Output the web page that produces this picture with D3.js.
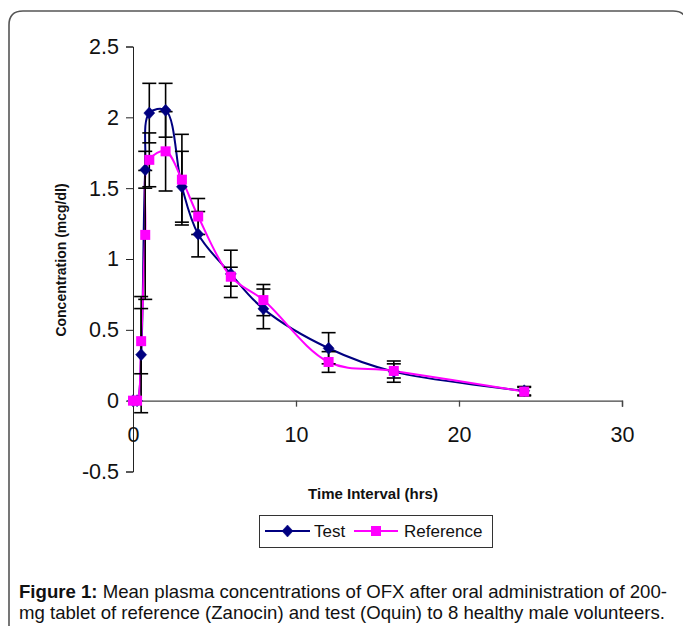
<!DOCTYPE html>
<html>
<head>
<meta charset="utf-8">
<script src="https://cdn.jsdelivr.net/npm/d3@7"></script>
<style>
html,body{margin:0;padding:0;background:#fff;}
svg{display:block;}
</style>
</head>
<body>
<svg id="chart" width="683" height="626"></svg>
<script>
// ---- data ----
const times = [0, 0.25, 0.5, 0.75, 1, 2, 3, 4, 6, 8, 12, 16, 24];
const testValues = [0, 0, 0.325, 1.63, 2.03, 2.05, 1.51, 1.175, 0.895, 0.648, 0.37, 0.205, 0.07];
const refValues  = [0, 0, 0.42, 1.17, 1.70, 1.76, 1.56, 1.30, 0.875, 0.71, 0.273, 0.21, 0.064];
const testSD = [0, 0, 0.41, 0.13, 0.21, 0.19, 0.25, 0.16, 0.167, 0.14, 0.11, 0.075, 0.03];
const refSD  = [0, 0, 0.23, 0.455, 0.19, 0.28, 0.32, 0.127, 0.067, 0.11, 0.073, 0.05, 0.03];
const xTicks = [0, 10, 20, 30];
const yTicks = [-0.5, 0, 0.5, 1, 1.5, 2, 2.5];
const seriesNames = ["Test", "Reference"];
const xTitle = "Time Interval (hrs)";
const yTitle = "Concentration (mcg/dl)";

const svg = d3.select("#chart");

// frame
svg.append("path")
  .attr("d", "M9,660 L9,25 Q9,11 23,11 L673,11 Q687,11 687,25 L687,660")
  .attr("fill", "none").attr("stroke", "#555").attr("stroke-width", 1.6);

const x = d3.scaleLinear().domain([0, 30]).range([133, 622]);
const y = d3.scaleLinear().domain([-0.5, 2.5]).range([471.5, 46.5]);

// y axis
const yAxis = d3.axisLeft(y).tickValues(yTicks).tickSize(7).tickPadding(7)
  .tickFormat(d => String(d));
const gy = svg.append("g").attr("transform", `translate(${x(0)},0)`).call(yAxis);
gy.select(".domain").attr("stroke", "#222");
gy.selectAll(".tick line").attr("stroke", "#222");
gy.selectAll(".tick text").attr("font-family", "Liberation Sans, Arial, sans-serif")
  .attr("font-size", 21.5).attr("fill", "#111");

// x axis at y=0
const xAxis = d3.axisBottom(x).tickValues(xTicks).tickSize(6).tickPadding(0)
  .tickFormat(d => String(d));
const gx = svg.append("g").attr("transform", `translate(0,${y(0)})`).call(xAxis);
gx.select(".domain").attr("stroke", "#444").attr("stroke-width", 1.3);
gx.selectAll(".tick line").attr("stroke", "#444").attr("stroke-width", 1.3);
gx.selectAll(".tick text").attr("font-family", "Liberation Sans, Arial, sans-serif")
  .attr("font-size", 21.5).attr("fill", "#111").attr("dy", null).attr("y", 41);

// axis titles
svg.append("text").attr("x", 373).attr("y", 499).attr("text-anchor", "middle")
  .attr("font-family", "Liberation Sans Narrow, Arial Narrow, Liberation Sans, sans-serif")
  .attr("font-weight", "bold").attr("font-size", 15).attr("fill", "#111").text(xTitle);
svg.append("text").attr("transform", "translate(66,260) rotate(-90)").attr("text-anchor", "middle")
  .attr("font-family", "Liberation Sans Narrow, Arial Narrow, Liberation Sans, sans-serif")
  .attr("font-weight", "bold").attr("font-size", 14).attr("fill", "#111").text(yTitle);

const colors = ["#000080", "#FF00FF"];
const series = [
  {name: seriesNames[0], vals: testValues, sd: testSD, color: colors[0], sym: "diamond"},
  {name: seriesNames[1], vals: refValues, sd: refSD, color: colors[1], sym: "square"}
];

const line = d3.line().x(d => x(d[0])).y(d => y(d[1])).curve(d3.curveCatmullRom.alpha(0.5));

series.forEach(s => {
  svg.append("path").datum(times.map((t, i) => [t, s.vals[i]]))
    .attr("d", line).attr("fill", "none").attr("stroke", s.color).attr("stroke-width", 2);
});

// error bars
const eb = svg.append("g").attr("stroke", "#000").attr("stroke-width", 1.6);
series.forEach(s => {
  times.forEach((t, i) => {
    if (s.sd[i] <= 0) return;
    const cx = x(t), y1 = y(s.vals[i] + s.sd[i]), y2 = y(s.vals[i] - s.sd[i]);
    eb.append("line").attr("x1", cx).attr("x2", cx).attr("y1", y1).attr("y2", y2);
    eb.append("line").attr("x1", cx - 7).attr("x2", cx + 7).attr("y1", y1).attr("y2", y1);
    eb.append("line").attr("x1", cx - 7).attr("x2", cx + 7).attr("y1", y2).attr("y2", y2);
  });
});

function marker(g, sym, cx, cy, color) {
  if (sym === "diamond") {
    g.append("path").attr("d", `M${cx},${cy-6} L${cx+5.5},${cy} L${cx},${cy+6} L${cx-5.5},${cy} Z`)
      .attr("fill", color).attr("stroke", color).attr("stroke-width", 0.5);
  } else {
    g.append("rect").attr("x", cx - 5).attr("y", cy - 5).attr("width", 10).attr("height", 10)
      .attr("fill", color);
  }
}
series.forEach(s => {
  const g = svg.append("g");
  times.forEach((t, i) => marker(g, s.sym, x(t), y(s.vals[i]), s.color));
});

// legend
const lg = svg.append("g");
lg.append("rect").attr("x", 259.5).attr("y", 515.5).attr("width", 233).attr("height", 32)
  .attr("fill", "#fff").attr("stroke", "#333").attr("stroke-width", 1);
const legendItems = [
  {x1: 265, x2: 310, tx: 314},
  {x1: 354, x2: 398, tx: 404}
];
series.forEach((s, i) => {
  const it = legendItems[i];
  lg.append("line").attr("x1", it.x1).attr("x2", it.x2).attr("y1", 531).attr("y2", 531)
    .attr("stroke", s.color).attr("stroke-width", 2);
  marker(lg, s.sym, (it.x1 + it.x2) / 2, 531, s.color);
  lg.append("text").attr("x", it.tx).attr("y", 537).attr("font-family", "Liberation Sans, Arial, sans-serif")
    .attr("font-size", 17).attr("fill", "#111").text(s.name);
});

// caption
const cap = svg.append("text").attr("font-family", "Liberation Sans, Arial, sans-serif")
  .attr("font-size", 18.6).attr("fill", "#111");
const l1 = cap.append("tspan").attr("x", 19).attr("y", 598);
l1.append("tspan").attr("font-weight", "bold").text("Figure 1:");
l1.append("tspan").text(" Mean plasma concentrations of OFX after oral administration of 200-");
cap.append("tspan").attr("x", 19).attr("y", 619)
  .text("mg tablet of reference (Zanocin) and test (Oquin) to 8 healthy male volunteers.");
</script>
</body>
</html>
